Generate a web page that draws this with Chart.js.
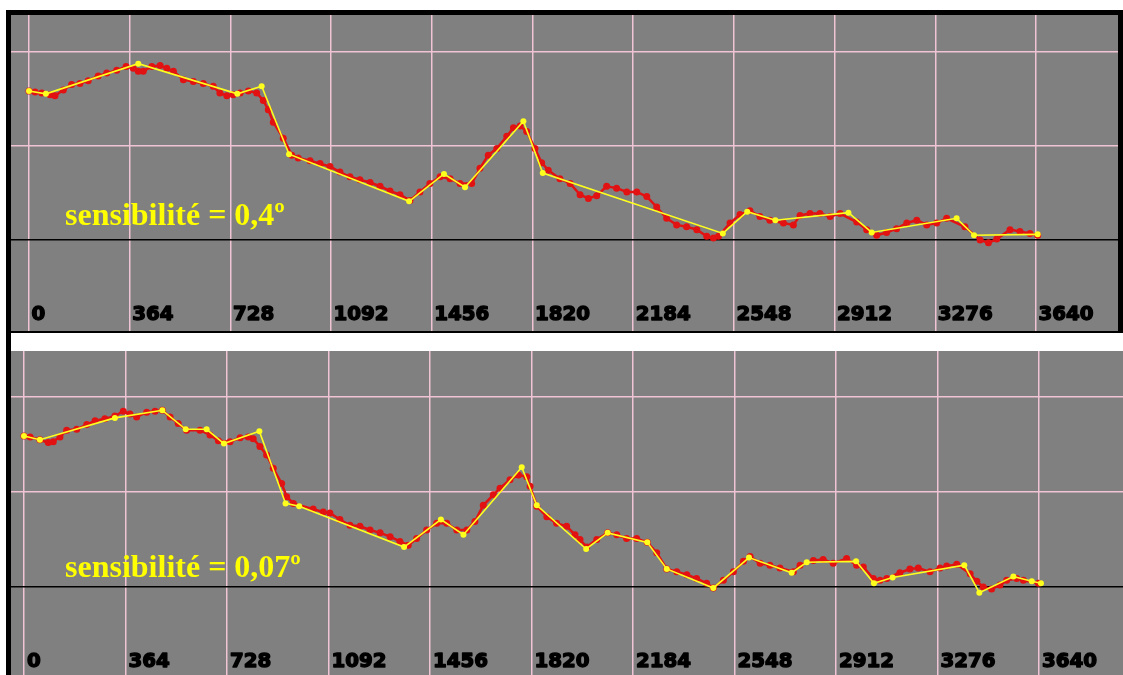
<!DOCTYPE html>
<html>
<head>
<meta charset="utf-8">
<script src="https://cdn.jsdelivr.net/npm/chart.js@4.4.1/dist/chart.umd.min.js"></script>
<style>
  html, body { margin: 0; padding: 0; background: #fff; width: 1123px; height: 675px; overflow: hidden; }
  .blk { position: absolute; background: #000; }
  .panel { position: absolute; background: #808080; }
  canvas { position: absolute; }
  .note { position: absolute; left: 65px; font: bold 32px "Liberation Serif", "Times New Roman", serif;
          line-height: 32px; color: #ffff00; white-space: nowrap; }
</style>
</head>
<body>
<div class="blk" style="left:6px;top:10px;width:1117px;height:323px"></div>
<div class="blk" style="left:6px;top:333px;width:5px;height:342px"></div>
<div class="panel" style="left:11px;top:15px;width:1107px;height:316px"></div>
<div class="panel" style="left:11px;top:351px;width:1112px;height:324px"></div>
<canvas id="top" width="1107" height="316" style="left:11px;top:15px"></canvas>
<canvas id="bottom" width="1112" height="324" style="left:11px;top:351px"></canvas>
<div class="note" style="top:198px">sensibilité = 0,4º</div>
<div class="note" style="top:550px">sensibilité = 0,07º</div>
<script>
// Distance axis ticks
const xTicks = [0, 364, 728, 1092, 1456, 1820, 2184, 2548, 2912, 3276, 3640];
const xTickLabels = ['0', '364', '728', '1092', '1456', '1820', '2184', '2548', '2912', '3276', '3640'];
const yTicks = [0, 1, 2];

// Upper trace: raw samples (red) and simplified polyline at 0,4° (yellow)
const topRawX = [0, 22, 46, 76, 94, 124, 154, 184, 214, 250, 281, 317, 351, 377, 395, 413, 444, 474, 498, 522,
  558, 594, 630, 666, 690, 715, 738, 763, 793, 823, 847, 865, 883, 919, 950, 973, 1016, 1052, 1088, 1124,
  1160, 1196, 1233, 1269, 1305, 1341, 1377, 1413, 1449, 1486, 1522, 1558, 1600, 1630, 1660, 1691, 1727, 1751,
  1775, 1799, 1829, 1853, 1877, 1919, 1956, 1992, 2022, 2052, 2088, 2124, 2161, 2197, 2233, 2269, 2305, 2341,
  2377, 2414, 2450, 2474, 2492, 2534, 2570, 2606, 2642, 2678, 2727, 2763, 2787, 2823, 2859, 2896, 2932, 2992,
  3028, 3064, 3100, 3136, 3173, 3209, 3245, 3281, 3317, 3383, 3438, 3468, 3498, 3546, 3582, 3618, 3646];
const topRawY = [1.58, 1.57, 1.56, 1.54, 1.53, 1.59, 1.65, 1.66, 1.69, 1.74, 1.77, 1.80, 1.84, 1.82, 1.79, 1.79, 1.84, 1.85, 1.82, 1.79,
  1.70, 1.68, 1.66, 1.63, 1.56, 1.53, 1.54, 1.56, 1.58, 1.56, 1.48, 1.38, 1.25, 1.08, 0.90, 0.87, 0.84, 0.81, 0.78, 0.72,
  0.67, 0.64, 0.61, 0.57, 0.52, 0.48, 0.42, 0.51, 0.60, 0.67, 0.65, 0.60, 0.60, 0.76, 0.90, 0.97, 1.10, 1.19,
  1.21, 1.15, 0.97, 0.82, 0.74, 0.65, 0.60, 0.48, 0.44, 0.47, 0.57, 0.55, 0.51, 0.51, 0.46, 0.35, 0.23, 0.16,
  0.14, 0.11, 0.04, 0.02, 0.04, 0.18, 0.27, 0.31, 0.25, 0.21, 0.18, 0.16, 0.26, 0.28, 0.28, 0.25, 0.28, 0.19,
  0.11, 0.05, 0.08, 0.12, 0.18, 0.21, 0.16, 0.18, 0.23, 0.14, 0.00, -0.03, 0.01, 0.11, 0.09, 0.07, 0.05];
const topFitX = [0, 61, 395, 753, 841, 940, 1374, 1500, 1576, 1787, 1857, 2508, 2596, 2698, 2962, 3046, 3353, 3416, 3646];
const topFitY = [1.58, 1.55, 1.87, 1.55, 1.63, 0.91, 0.41, 0.70, 0.56, 1.26, 0.71, 0.07, 0.30, 0.21, 0.29, 0.08, 0.23, 0.05, 0.06];

// Lower trace: raw samples (red) and simplified polyline at 0,07° (yellow)
const botRawX = [0, 22, 57, 87, 105, 129, 153, 189, 225, 255, 290, 326, 356, 380, 404, 440, 470, 496, 524, 553,
  583, 631, 667, 697, 739, 775, 804, 822, 846, 870, 894, 924, 942, 966, 1037, 1073, 1097, 1133, 1169, 1205,
  1241, 1277, 1313, 1348, 1378, 1408, 1444, 1480, 1516, 1552, 1588, 1617, 1647, 1683, 1707, 1743, 1773, 1803,
  1815, 1839, 1875, 1910, 1946, 1976, 1994, 2018, 2054, 2093, 2126, 2161, 2197, 2235, 2269, 2305, 2341, 2377,
  2412, 2448, 2472, 2508, 2544, 2580, 2604, 2640, 2675, 2711, 2759, 2783, 2831, 2866, 2902, 2950, 2986, 3010,
  3046, 3070, 3094, 3141, 3177, 3207, 3249, 3285, 3309, 3345, 3393, 3417, 3440, 3470, 3500, 3524, 3560, 3584, 3638];
const botRawY = [1.59, 1.58, 1.55, 1.52, 1.53, 1.58, 1.65, 1.66, 1.71, 1.75, 1.77, 1.80, 1.85, 1.82, 1.79, 1.84, 1.85, 1.86, 1.79, 1.72,
  1.65, 1.65, 1.60, 1.54, 1.53, 1.57, 1.58, 1.56, 1.48, 1.39, 1.25, 1.09, 0.95, 0.88, 0.82, 0.79, 0.78, 0.71, 0.65, 0.64,
  0.60, 0.57, 0.53, 0.48, 0.44, 0.51, 0.60, 0.67, 0.67, 0.60, 0.60, 0.69, 0.86, 0.97, 1.04, 1.13, 1.18, 1.16,
  1.06, 0.85, 0.74, 0.67, 0.64, 0.55, 0.50, 0.42, 0.50, 0.57, 0.55, 0.51, 0.51, 0.47, 0.36, 0.19, 0.16, 0.13,
  0.09, 0.04, -0.01, 0.07, 0.16, 0.27, 0.32, 0.25, 0.23, 0.20, 0.16, 0.23, 0.28, 0.29, 0.25, 0.30, 0.23, 0.21,
  0.09, 0.07, 0.09, 0.15, 0.19, 0.20, 0.16, 0.20, 0.22, 0.24, 0.14, 0.06, 0.00, -0.02, 0.02, 0.07, 0.09, 0.07, 0.04];
const botFitX = [0, 57, 326, 496, 580, 655, 717, 844, 938, 987, 1363, 1495, 1576, 1785, 1839, 2016, 2093, 2235,
  2305, 2472, 2600, 2753, 2807, 2984, 3048, 3115, 3372, 3426, 3548, 3614, 3647];
const botFitY = [1.59, 1.55, 1.78, 1.86, 1.66, 1.66, 1.51, 1.64, 0.88, 0.85, 0.42, 0.71, 0.55, 1.26, 0.86, 0.40, 0.57, 0.47,
  0.19, -0.01, 0.31, 0.15, 0.26, 0.27, 0.04, 0.10, 0.23, -0.06, 0.11, 0.06, 0.04];

const GRID = '#f0c4d4';
const RED = '#e31212';
const YELLOW = '#ffff1e';

const pts = (xs, ys) => xs.map((x, i) => ({ x, y: ys[i] }));

// Draws the distance labels just right of each vertical grid line
const tickLabelPlugin = {
  id: 'tickLabels',
  afterDraw(chart, args, opts) {
    const ctx = chart.ctx;
    const xs = chart.scales.x;
    ctx.save();
    ctx.font = 'bold 19px "DejaVu Sans", sans-serif';
    ctx.textBaseline = 'middle';
    ctx.textAlign = 'left';
    ctx.fillStyle = '#000';
    ctx.strokeStyle = '#000';
    ctx.lineWidth = 1.4;
    ctx.lineJoin = 'round';
    xTicks.forEach((v, i) => {
      const px = xs.getPixelForValue(v) + opts.dx;
      ctx.save();
      ctx.translate(px, opts.y);
      ctx.scale(1.04, 1);
      ctx.fillText(xTickLabels[i], 0, 0);
      ctx.strokeText(xTickLabels[i], 0, 0);
      ctx.restore();
    });
    ctx.restore();
  }
};

function makeChart(id, raw, fit, xRange, yRange, labelOpts) {
  return new Chart(document.getElementById(id), {
    type: 'line',
    data: {
      datasets: [
        { data: fit, order: 0, borderColor: YELLOW, borderWidth: 1.6, pointRadius: 3,
          pointBackgroundColor: YELLOW, pointBorderWidth: 0, tension: 0 },
        { data: raw, order: 1, borderColor: RED, borderWidth: 2.5, pointRadius: 3.5,
          pointBackgroundColor: RED, pointBorderWidth: 0, tension: 0 }
      ]
    },
    options: {
      responsive: false,
      animation: false,
      events: [],
      layout: { padding: 0, autoPadding: false },
      plugins: { legend: { display: false }, tooltip: { enabled: false }, tickLabels: labelOpts },
      scales: {
        x: {
          type: 'linear', min: xRange[0], max: xRange[1],
          afterBuildTicks: s => { s.ticks = xTicks.map(v => ({ value: v })); },
          afterFit: s => { s.height = 0; },
          ticks: { display: false },
          border: { display: false },
          grid: { color: GRID, lineWidth: 1.5, drawTicks: false }
        },
        y: {
          type: 'linear', min: yRange[0], max: yRange[1],
          afterBuildTicks: s => { s.ticks = yTicks.map(v => ({ value: v })); },
          afterFit: s => { s.width = 0; },
          ticks: { display: false },
          border: { display: false },
          grid: { color: c => (c.tick && c.tick.value === 0 ? '#000' : GRID), lineWidth: 1.5, drawTicks: false }
        }
      }
    },
    plugins: [tickLabelPlugin]
  });
}

makeChart('top', pts(topRawX, topRawY), pts(topFitX, topFitY), [-65.1, 3936.4], [-0.965, 2.386], { y: 300.5, dx: 2.5 });
makeChart('bottom', pts(botRawX, botRawY), pts(botFitX, botFitY), [-46.6, 3941.2], [-0.926, 2.484], { y: 311, dx: 3 });
</script>
</body>
</html>
